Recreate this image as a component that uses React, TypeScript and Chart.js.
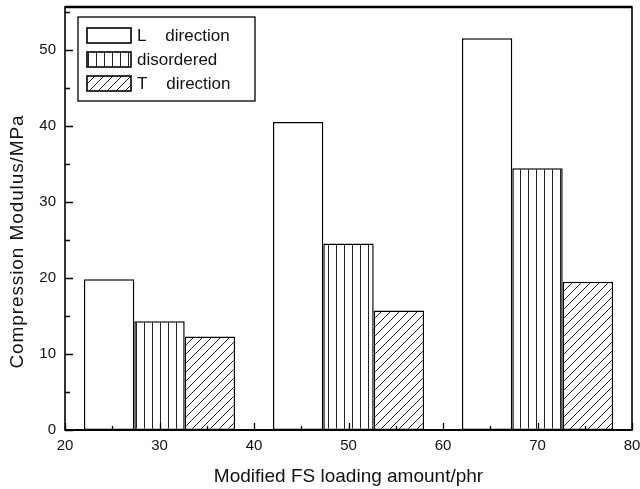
import React, { useEffect, useRef } from "react";
import { Chart, registerables } from "chart.js";

Chart.register(...registerables);

// Modified FS loading amount (phr) at which each group of bars is centred
const loadings = [30, 50, 70];
// Compression modulus (MPa)
const lDirection = [19.8, 40.5, 51.5];
const disordered = [14.3, 24.5, 34.4];
const tDirection = [12.3, 15.7, 19.5];

const seriesNames = ["L    direction", "disordered", "T    direction"];
const xTicks = [20, 30, 40, 50, 60, 70, 80];
const yTicks = [0, 10, 20, 30, 40, 50];
const xMinorStep = 5;
const yMinorStep = 5;

const FONT = "'Liberation Sans', Arial, Helvetica, sans-serif";
const INK = "#111";

function makeVerticalPattern(): CanvasPattern | string {
  const c = document.createElement("canvas");
  c.width = 8;
  c.height = 8;
  const g = c.getContext("2d");
  if (!g) return "#fff";
  g.fillStyle = "#fff";
  g.fillRect(0, 0, 8, 8);
  g.strokeStyle = "#222";
  g.lineWidth = 1;
  g.beginPath();
  g.moveTo(0.5, 0);
  g.lineTo(0.5, 8);
  g.stroke();
  return g.createPattern(c, "repeat") || "#fff";
}

function makeDiagonalPattern(): CanvasPattern | string {
  const s = 9;
  const c = document.createElement("canvas");
  c.width = s;
  c.height = s;
  const g = c.getContext("2d");
  if (!g) return "#fff";
  g.fillStyle = "#fff";
  g.fillRect(0, 0, s, s);
  g.strokeStyle = "#222";
  g.lineWidth = 1;
  g.beginPath();
  g.moveTo(-1, s + 1);
  g.lineTo(s + 1, -1);
  g.moveTo(-1, 1);
  g.lineTo(1, -1);
  g.moveTo(s - 1, s + 1);
  g.lineTo(s + 1, s - 1);
  g.stroke();
  return g.createPattern(c, "repeat") || "#fff";
}

const framePlugin = {
  id: "frameAndTicks",
  afterDatasetsDraw(chart: any) {
    const { ctx, chartArea: ca, scales } = chart;
    const xs = scales.x;
    const ys = scales.y;
    ctx.save();
    ctx.strokeStyle = "#000";
    // inward ticks
    ctx.lineWidth = 1.3;
    ctx.beginPath();
    for (let v = xs.min; v <= xs.max + 1e-9; v += xMinorStep) {
      const px = Math.round(xs.getPixelForValue(v)) + 0.5;
      const major = xTicks.includes(v);
      const len = major ? 7 : 4;
      ctx.moveTo(px, ca.bottom);
      ctx.lineTo(px, ca.bottom - len);
    }
    for (let v = ys.min; v <= ys.max + 1e-9; v += yMinorStep) {
      const py = Math.round(ys.getPixelForValue(v)) + 0.5;
      const major = yTicks.includes(v);
      const len = major ? 8 : 5;
      ctx.moveTo(ca.left, py);
      ctx.lineTo(ca.left + len, py);
    }
    ctx.stroke();
    // frame
    ctx.lineWidth = 1.6;
    ctx.strokeRect(ca.left, ca.top, ca.right - ca.left, ca.bottom - ca.top);
    ctx.lineWidth = 2.6;
    ctx.beginPath();
    ctx.moveTo(ca.left, ca.top);
    ctx.lineTo(ca.right, ca.top);
    ctx.stroke();
    ctx.lineWidth = 2.2;
    ctx.beginPath();
    ctx.moveTo(ca.left, ca.bottom);
    ctx.lineTo(ca.right, ca.bottom);
    ctx.stroke();
    ctx.restore();
  },
  afterDraw(chart: any) {
    const { ctx, chartArea: ca } = chart;
    ctx.save();
    // legend box
    const bx = ca.left + 13;
    const by = ca.top + 10;
    const bw = 177;
    const bh = 84;
    ctx.fillStyle = "#fff";
    ctx.fillRect(bx, by, bw, bh);
    ctx.strokeStyle = "#000";
    ctx.lineWidth = 1.3;
    ctx.strokeRect(bx, by, bw, bh);
    ctx.font = `17px ${FONT}`;
    ctx.textBaseline = "middle";
    ctx.textAlign = "left";
    chart.data.datasets.forEach((ds: any, i: number) => {
      const sy = by + 11 + i * 24;
      ctx.fillStyle = ds.backgroundColor;
      ctx.fillRect(bx + 9, sy, 44, 15);
      ctx.lineWidth = 1.6;
      ctx.strokeStyle = "#000";
      ctx.strokeRect(bx + 9, sy, 44, 15);
      ctx.fillStyle = INK;
      ctx.fillText(ds.label, bx + 59, sy + 8);
    });
    // y-axis title
    ctx.translate(18, (ca.top + ca.bottom) / 2 + 23);
    ctx.rotate(-Math.PI / 2);
    ctx.font = `19px ${FONT}`;
    (ctx as any).letterSpacing = "0.9px";
    ctx.textAlign = "center";
    ctx.textBaseline = "middle";
    ctx.fillStyle = INK;
    ctx.fillText("Compression Modulus/MPa", 0, 0);
    ctx.restore();
  },
};

export default function App() {
  const ref = useRef<HTMLCanvasElement | null>(null);

  useEffect(() => {
    document.body.style.margin = "0";
    const canvas = ref.current;
    if (!canvas) return;
    const vPat = makeVerticalPattern();
    const dPat = makeDiagonalPattern();
    const mk = (vals: number[]) => loadings.map((x, i) => ({ x, y: vals[i] }));
    const common = {
      borderColor: "#000",
      borderWidth: 1.5,
      borderSkipped: false,
      // tick spacing (10 phr) is the ruler unit; a group spans 16 phr
      categoryPercentage: 1.6,
      barPercentage: 1.0,
    };
    const chart = new Chart(canvas, {
      type: "bar",
      data: {
        datasets: [
          { label: seriesNames[0], data: mk(lDirection), backgroundColor: "#fff", ...common },
          { label: seriesNames[1], data: mk(disordered), backgroundColor: vPat as any, ...common },
          { label: seriesNames[2], data: mk(tDirection), backgroundColor: dPat as any, ...common },
        ] as any,
      },
      options: {
        responsive: false,
        animation: false,
        layout: { padding: { top: 7, right: 8, left: 0, bottom: 0 } },
        plugins: { legend: { display: false }, tooltip: { enabled: false } },
        scales: {
          x: {
            type: "linear",
            min: 20,
            max: 80,
            offset: false,
            grid: { display: false, drawTicks: false },
            border: { display: false },
            afterBuildTicks: (s: any) => {
              s.ticks = xTicks.map((v) => ({ value: v }));
            },
            afterFit: (s: any) => {
              s.height = 59;
              s.paddingLeft = 0;
              s.paddingRight = 0;
            },
            ticks: {
              padding: 7,
              color: INK,
              font: { family: FONT, size: 15 },
              maxRotation: 0,
            },
            title: {
              display: true,
              text: "Modified FS loading amount/phr",
              color: INK,
              font: { family: FONT, size: 19 },
              padding: { top: 0, bottom: 1 },
            },
          },
          y: {
            type: "linear",
            min: 0,
            max: 55.6,
            grid: { display: false, drawTicks: false },
            border: { display: false },
            afterBuildTicks: (s: any) => {
              s.ticks = yTicks.map((v) => ({ value: v }));
            },
            afterFit: (s: any) => {
              s.width = 65;
              s.paddingTop = 0;
              s.paddingBottom = 0;
            },
            ticks: {
              padding: 9,
              color: INK,
              font: { family: FONT, size: 15 },
            },
          },
        },
      } as any,
      plugins: [framePlugin],
    });
    return () => chart.destroy();
  }, []);

  return (
    <div style={{ width: 640, height: 489 }}>
      <canvas ref={ref} width={640} height={489} style={{ display: "block" }} />
    </div>
  );
}
